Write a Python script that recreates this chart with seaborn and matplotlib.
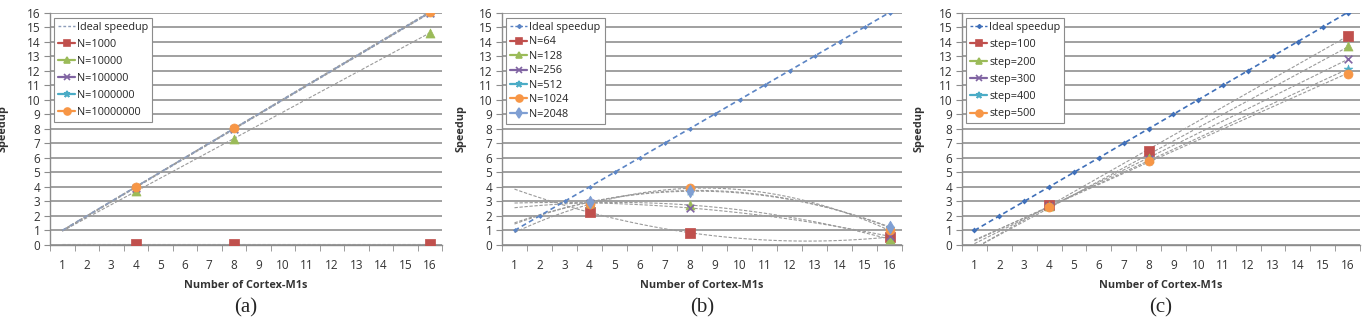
import numpy as np
import pandas as pd
import matplotlib
matplotlib.use('Agg')
import matplotlib.pyplot as plt
from matplotlib.lines import Line2D
from matplotlib.ticker import FixedLocator
import seaborn as sns

# --- data ---
ideal_x = list(range(1, 17))
ideal_y = list(range(1, 17))
cores = [4, 8, 16]

a_labels = ['N=1000', 'N=10000', 'N=100000', 'N=1000000', 'N=10000000']
a_n1000 = [0.05, 0.05, 0.05]
a_n10000 = [3.7, 7.3, 14.6]
a_n100000 = [3.95, 7.95, 15.95]
a_n1000000 = [4.0, 8.0, 16.0]
a_n10000000 = [4.0, 8.05, 16.05]

b_labels = ['N=64', 'N=128', 'N=256', 'N=512', 'N=1024', 'N=2048']
b_n64 = [2.25, 0.85, 0.55]
b_n128 = [2.9, 2.75, 0.4]
b_n256 = [2.9, 2.55, 0.6]
b_n512 = [2.95, 3.75, 1.2]
b_n1024 = [2.8, 3.9, 1.0]
b_n2048 = [2.95, 3.7, 1.25]

c_labels = ['step=100', 'step=200', 'step=300', 'step=400', 'step=500']
c_s100 = [2.75, 6.5, 14.4]
c_s200 = [2.7, 6.0, 13.7]
c_s300 = [2.7, 5.9, 12.8]
c_s400 = [2.65, 5.8, 12.1]
c_s500 = [2.6, 5.75, 11.8]

colors = ['#C0504D', '#9BBB59', '#8064A2', '#4BACC6', '#F79646', '#7F9FD3']
markers = ['s', '^', 'x', '*', 'o', 'd']

sns.set_style('white')
plt.rcParams['font.family'] = ['Open Sans', 'DejaVu Sans']

fig = plt.figure(figsize=(13.62, 3.18), dpi=100)
W, H = 1362.0, 318.0
boxes = [(50, 442), (502, 902), (962, 1360)]
ylab_x = [9, 467, 925]


def panel(ax, series, labels, deg, ideal_color, ideal_ms, tag, ylx, lspace):
    ax.set_xlim(0.5, 16.5)
    ax.set_ylim(0, 16)
    ax.set_yticks(range(0, 17))
    ax.yaxis.grid(True, color='#A0A0A0', lw=1.4)
    ax.set_axisbelow(True)
    for s in ['top', 'right']:
        ax.spines[s].set_visible(False)
    for s in ['left', 'bottom']:
        ax.spines[s].set_color('#8C8C8C')
        ax.spines[s].set_linewidth(1.0)
    ax.set_xticks(range(1, 17))
    ax.xaxis.set_minor_locator(FixedLocator(np.arange(0.5, 17, 1)))
    ax.tick_params(axis='x', which='major', length=0, pad=10, labelsize=8.5, colors='#333333')
    ax.tick_params(axis='x', which='minor', length=4, direction='out', color='#8C8C8C', bottom=True)
    ax.tick_params(axis='y', length=4, direction='out', color='#8C8C8C', left=True, pad=3,
                   labelsize=8.5, colors='#333333')

    # trendlines through the measured points
    xt = np.linspace(1, 16, 100)
    for ys in series:
        p = np.polyfit(cores, ys, deg)
        ax.plot(xt, np.polyval(p, xt), color='#9A9A9A', lw=0.8, ls=(0, (3, 1.5)), zorder=2)

    ideal_df = pd.DataFrame({'x': ideal_x, 'y': ideal_y})
    sns.lineplot(data=ideal_df, x='x', y='y', ax=ax, color=ideal_color, lw=1.2,
                 dashes=False, linestyle=(0, (3, 2)), marker='D' if ideal_ms else None,
                 markersize=ideal_ms, markeredgewidth=0, zorder=3)

    for i, ys in enumerate(series):
        df = pd.DataFrame({'x': cores, 'y': ys})
        m = markers[i]
        kw = dict(s=42, color=colors[i], ax=ax, marker=m, zorder=4, legend=False)
        if m in ('x',):
            kw['linewidth'] = 1.2
            kw['s'] = 30
        else:
            kw['edgecolor'] = colors[i]
        sns.scatterplot(data=df, x='x', y='y', **kw)

    handles = [Line2D([], [], color=ideal_color, ls=(0, (2, 1.5)), lw=1.0,
                      marker='D' if ideal_ms else None, markersize=2)]
    for i in range(len(series)):
        handles.append(Line2D([], [], color=colors[i], lw=1.6, marker=markers[i], markersize=5,
                              markeredgewidth=1.2))
    leg = ax.legend(handles, ['Ideal speedup'] + labels, loc='upper left',
                    bbox_to_anchor=(0.005, 0.985), fontsize=7.8, frameon=True, fancybox=False,
                    edgecolor='#8C8C8C', framealpha=1, handlelength=1.6, handletextpad=0.2,
                    labelspacing=lspace, borderpad=0.35, borderaxespad=0.2)
    leg.get_frame().set_linewidth(0.8)

    ax.set_xlabel('Number of Cortex-M1s', fontsize=7.8, fontweight='bold', labelpad=6, color='#333333')
    ax.set_ylabel('Speedup', fontsize=7.8, fontweight='bold', color='#333333')
    l, r = ax.get_position().x0 * W, ax.get_position().x1 * W
    ax.yaxis.set_label_coords((ylx - l) / (r - l), 0.5)
    fig.text((l + r) / 2 / W, 1 - 308 / H, tag, ha='center', va='center',
             fontsize=15, family=['Liberation Serif', 'DejaVu Serif'])


top, bot = 12.5, 245
axes = []
for (l, r) in boxes:
    axes.append(fig.add_axes([l / W, 1 - bot / H, (r - l) / W, (bot - top) / H]))

panel(axes[0], [a_n1000, a_n10000, a_n100000, a_n1000000, a_n10000000], a_labels, 1,
      '#8D9DBA', 0, '(a)', ylab_x[0], 0.55)
panel(axes[1], [b_n64, b_n128, b_n256, b_n512, b_n1024, b_n2048], b_labels, 2,
      '#5B84C4', 2.5, '(b)', ylab_x[1], 0.32)
panel(axes[2], [c_s100, c_s200, c_s300, c_s400, c_s500], c_labels, 1,
      '#3F6FB8', 3, '(c)', ylab_x[2], 0.58)

fig.savefig('out.png', dpi=100)
